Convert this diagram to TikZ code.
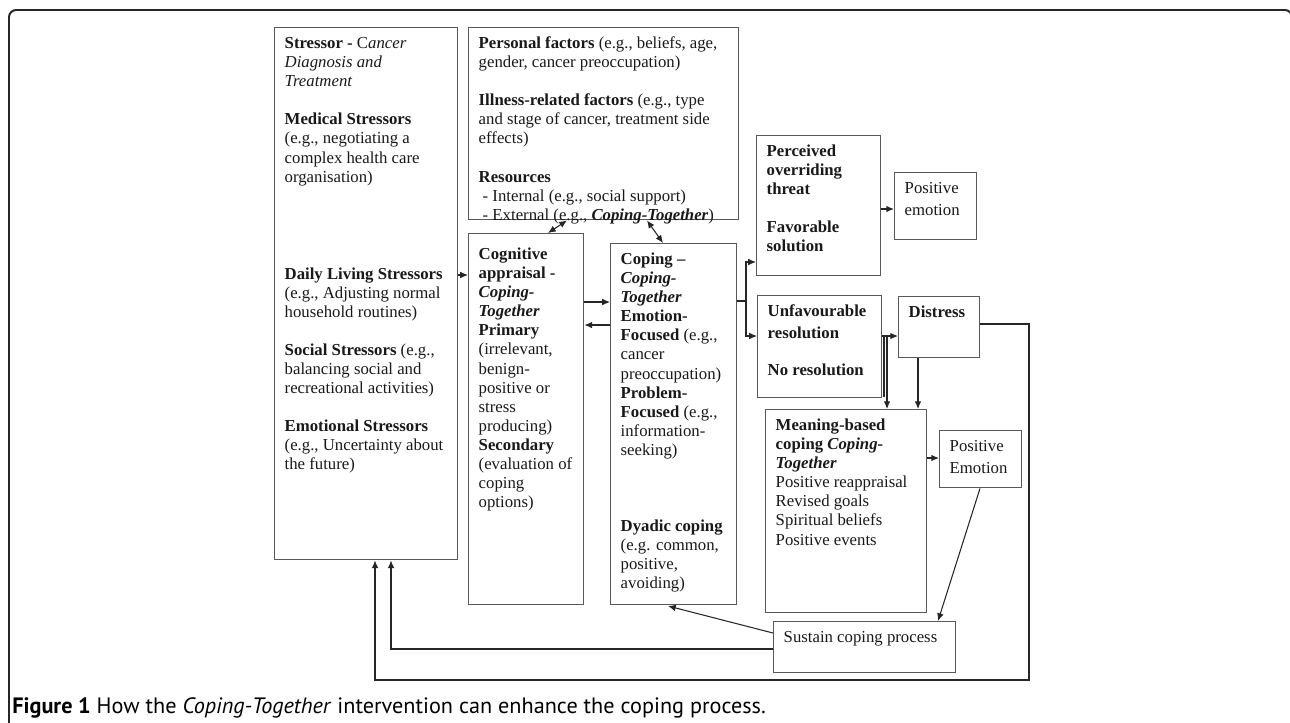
\documentclass[tikz,border=0pt]{standalone}
\usepackage{fontspec}
\setmainfont{Liberation Serif}
\newfontfamily\capfont{PT Sans}
\usetikzlibrary{arrows.meta}

\newlength\px
\setlength\px{0.567pt}
% top-aligned text block for a box of given outer width/height (in px)
\newcommand{\tbox}[4][0]{\hspace*{10\px}\parbox[c][#3\px][t]{\dimexpr#2\px-12\px\relax}{\raggedright
  \vspace*{\dimexpr21\px+#1\px-\ht\strutbox\relax}\strut#4}}

\tikzset{
  box/.style={draw=black!65, line width=0.8pt, anchor=north west, inner sep=0pt,
    text=black!90, font=\fontsize{9.5}{10.8}\selectfont},
  wide/.style={font=\fontsize{9.5}{12.5}\selectfont},
  link/.style={draw=black!85, line width=0.6pt},
  arr/.style={link, -{Latex[length=4.4pt,width=3.8pt]}},
  arrs/.style={link, {Latex[length=4.4pt,width=3.8pt]}-{Latex[length=4.4pt,width=3.8pt]}},
}

\begin{document}
\begin{tikzpicture}[x=0.567pt, y=-0.567pt]
  \useasboundingbox (0,0) rectangle (1290,722);
  \draw[black!85, line width=1.1pt, rounded corners=4pt] (9,740) -- (9,10) -- (1292,10) -- (1292,740);

  % boxes
  \node[box] (stress) at (274,27) {\tbox{185}{532}{\textbf{Stressor -} C\textit{ancer}\\
    \textit{Diagnosis and}\\ \textit{Treatment}\\[\baselineskip]
    \textbf{Medical Stressors}\\ (e.g., negotiating a\\ complex health care\\ organisation)\\[78\px]
    \textbf{Daily Living Stressors}\\ (e.g., Adjusting normal\\ household routines)\\[\baselineskip]
    \textbf{Social Stressors} (e.g.,\\ balancing social and\\ recreational activities)\\[\baselineskip]
    \textbf{Emotional Stressors}\\ (e.g., Uncertainty about\\ the future)}};
  \node[box] (factors) at (468,27) {\tbox{272}{192}{\textbf{Personal factors} (e.g., beliefs, age,\\
    gender, cancer preoccupation)\\[\baselineskip]
    \textbf{Illness-related factors} (e.g., type\\ and stage of cancer, treatment side\\ effects)\\[\baselineskip]
    \textbf{Resources}\\ \hspace*{4\px}- Internal (e.g., social support)\\
    \hspace*{4\px}- External (e.g., \textbf{\textit{Coping-Together}})}};
  \node[box] (apprais) at (468,233) {\tbox[5]{117}{371}{\textbf{Cognitive}\\ \textbf{appraisal -}\\
    \textbf{\textit{Coping-}}\\ \textbf{\textit{Together}}\\ \textbf{Primary}\\ (irrelevant,\\ benign-\\
    positive or\\ stress\\ producing)\\ \textbf{Secondary}\\ (evaluation of\\ coping\\ options)}};
  \node[box] (coping) at (610,243) {\tbox{128}{361}{\textbf{Coping --}\\ \textbf{\textit{Coping-}}\\
    \textbf{\textit{Together}}\\ \textbf{Emotion-}\\ \textbf{Focused} (e.g.,\\ cancer\\ preoccupation)\\
    \textbf{Problem-}\\ \textbf{Focused} (e.g.,\\ information-\\ seeking)\\[3\baselineskip]
    \textbf{Dyadic coping}\\ (e.g. common,\\ positive,\\ avoiding)}};
  \node[box] (threat) at (756,135) {\tbox{126}{140}{\textbf{Perceived}\\ \textbf{overriding}\\
    \textbf{threat}\\[\baselineskip] \textbf{Favorable}\\ \textbf{solution}}};
  \node[box, wide] (posemo) at (894,172) {\tbox{84}{67}{Positive\\ emotion}};
  \node[box, wide] (unfav) at (757,295) {\tbox{126}{102}{\textbf{Unfavourable}\\
    \textbf{resolution}\\[15\px] \textbf{No resolution}}};
  \node[box] (distress) at (898,296) {\tbox{83}{61}{\textbf{Distress}}};
  \node[box] (meaning) at (765,409) {\tbox{163}{203}{\textbf{Meaning-based}\\
    \textbf{coping \textit{Coping-}}\\ \textbf{\textit{Together}}\\ Positive reappraisal\\
    Revised goals\\ Spiritual beliefs\\ Positive events}};
  \node[box, wide] (posemo2) at (939,430) {\tbox{84}{57}{Positive\\ Emotion}};
  \node[box] (sustain) at (773,621) {\tbox{184}{51}{Sustain coping process}};

  % connectors
  \draw[arr] (stress.east |- 0,275) -- (apprais.west |- 0,275);
  \draw[arrs] (factors.south -| 567,0) -- (apprais.north -| 548,0);
  \draw[arrs] (factors.south -| 647,0) -- (coping.north -| 663,0);
  \draw[arr] (apprais.east |- 0,302) -- (coping.west |- 0,302);
  \draw[arr] (coping.west |- 0,325) -- (apprais.east |- 0,325);
  \coordinate (split) at (746,301);
  \draw[link] (coping.east |- split) -- (split);
  \draw[arr] (split) |- (threat.west |- 0,262);
  \draw[arr] (split) |- (unfav.west |- 0,336);
  \draw[arr] (threat.east |- 0,209) -- (posemo.west |- 0,209);
  \draw[arr] (unfav.east |- 0,336) -- (distress.west |- 0,336);
  \draw[link] (884,336) -- (884,397);
  \draw[arr] (887,336) -- (meaning.north -| 887,0);
  \draw[arr] (distress.south -| 918,0) -- (meaning.north -| 918,0);
  \draw[arr] (meaning.east |- 0,458) -- (posemo2.west |- 0,458);
  \draw[arr] (posemo2.south -| 980,0) -- (sustain.north -| 938,0);
  \draw[arr] (sustain.west |- 0,633) -- (668,606);
  \draw[arr] (sustain.west |- 0,649) -| (stress.south -| 391,0);
  \draw[arr] (distress.east |- 0,324) -| (1029,680) -| (stress.south -| 375,0);

  \node[anchor=base west, inner sep=0pt, font=\capfont\fontsize{12.6}{14}\selectfont] (caption)
    at (12,713) {\textbf{Figure 1} How the \textit{Coping-Together} intervention can enhance the coping process.};
\end{tikzpicture}
\end{document}
